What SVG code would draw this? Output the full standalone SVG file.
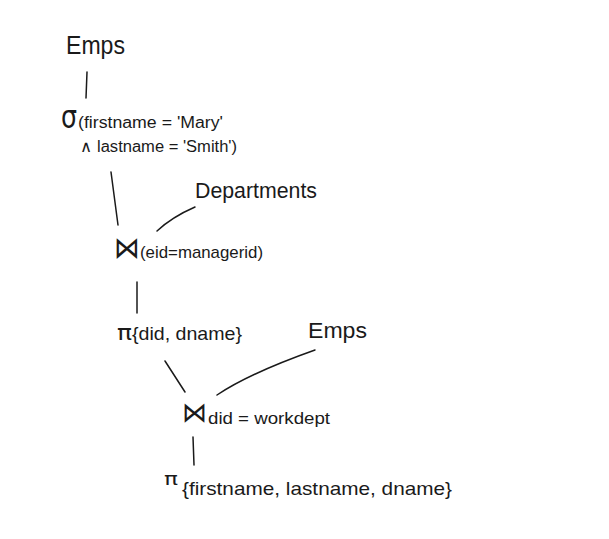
<svg xmlns="http://www.w3.org/2000/svg" width="609" height="539" viewBox="0 0 609 539">
<style>
.t{font-family:"Liberation Sans",Arial,sans-serif;fill:#1a1a1a;}
.s{font-family:"DejaVu Sans","Liberation Sans",sans-serif;fill:#1a1a1a;}
.c{stroke:#1a1a1a;stroke-width:1.5;fill:none;stroke-linecap:round;}
</style>
<rect width="609" height="539" fill="#ffffff"/>
<g id="connectors">
<path class="c" d="M87,72 L86,98"/>
<path class="c" d="M111,172 L118,225"/>
<path class="c" d="M157,231 Q172,217 195,207"/>
<path class="c" d="M137,282 L137,313"/>
<path class="c" d="M165,361 L185,392"/>
<path class="c" d="M217,395 Q250,373 315,350"/>
<path class="c" d="M193,437 L194,465"/>
</g>
<g id="emps1">
<text class="t" x="66" y="54" font-size="25" textLength="59" lengthAdjust="spacingAndGlyphs">Emps</text>
</g>
<g id="select">
<text class="s" x="61" y="128" font-size="32" textLength="16" lengthAdjust="spacingAndGlyphs">σ</text>
<text class="t" x="78" y="128" font-size="16" textLength="145" lengthAdjust="spacingAndGlyphs">(firstname = 'Mary'</text>
<text class="t" x="80" y="152" font-size="16" textLength="157" lengthAdjust="spacingAndGlyphs">∧ lastname = 'Smith')</text>
</g>
<g id="departments">
<text class="t" x="195" y="198" font-size="22" textLength="122" lengthAdjust="spacingAndGlyphs">Departments</text>
</g>
<g id="join1">
<text class="s" x="114" y="258" font-size="30" textLength="26" lengthAdjust="spacingAndGlyphs">⋈</text>
<text class="t" x="140" y="258" font-size="17" textLength="123" lengthAdjust="spacingAndGlyphs">(eid=managerid)</text>
</g>
<g id="project1">
<text class="s" x="117" y="340" font-size="22" textLength="15" lengthAdjust="spacingAndGlyphs">π</text>
<text class="t" x="132" y="340" font-size="19" textLength="110" lengthAdjust="spacingAndGlyphs">{did, dname}</text>
</g>
<g id="emps2">
<text class="t" x="308" y="338" font-size="22" textLength="59" lengthAdjust="spacingAndGlyphs">Emps</text>
</g>
<g id="join2">
<text class="s" x="182" y="422" font-size="28" textLength="25" lengthAdjust="spacingAndGlyphs">⋈</text>
<text class="t" x="208" y="424" font-size="17" textLength="122" lengthAdjust="spacingAndGlyphs">did = workdept</text>
</g>
<g id="project2">
<text class="s" x="164" y="485" font-size="18" textLength="14" lengthAdjust="spacingAndGlyphs">π</text>
<text class="t" x="182" y="495" font-size="19" textLength="270" lengthAdjust="spacingAndGlyphs">{firstname, lastname, dname}</text>
</g>
</svg>
